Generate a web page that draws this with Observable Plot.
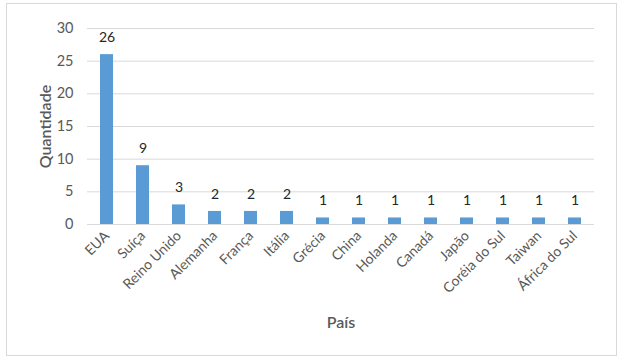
<!DOCTYPE html>
<html>
<head>
<meta charset="utf-8">
<script src="https://cdn.jsdelivr.net/npm/d3@7"></script>
<script src="https://cdn.jsdelivr.net/npm/@observablehq/plot@0.6"></script>
<style>
  body { margin: 0; background: #fff; }
  #wrap { position: relative; width: 625px; height: 361px; }
  #border { position: absolute; left: 6px; top: 3px; width: 609px; height: 351px; border: 1px solid #d9d9d9; box-sizing: content-box; pointer-events: none; }
  svg { position: absolute; left: 0; top: 0; }
</style>
</head>
<body>
<div id="wrap"><div id="border"></div></div>
<script>
const countries = ["EUA", "Suíça", "Reino Unido", "Alemanha", "França", "Itália", "Grécia", "China", "Holanda", "Canadá", "Japão", "Coréia do Sul", "Taiwan", "África do Sul"];
const counts = [26, 9, 3, 2, 2, 2, 1, 1, 1, 1, 1, 1, 1, 1];
const yTicks = [0, 5, 10, 15, 20, 25, 30];
const yTitle = "Quantidade";
const xTitle = "País";

const data = countries.map((c, i) => ({country: c, value: counts[i]}));

const chart = Plot.plot({
  width: 625,
  height: 361,
  marginLeft: 87,
  marginRight: 31,
  marginTop: 28,
  marginBottom: 137,
  style: {fontFamily: "Lato, 'Open Sans', sans-serif", fontSize: "13px", color: "#595959", background: "transparent"},
  x: {domain: countries, paddingInner: 0.64, paddingOuter: 0.32, label: null},
  y: {domain: [0, 30], label: null},
  marks: [
    Plot.ruleY(yTicks, {stroke: "#d9d9d9", strokeWidth: 1}),
    Plot.barY(data, {x: "country", y: "value", fill: "#5b9bd5"}),
    Plot.text(data, {x: "country", y: "value", text: d => String(d.value), dy: -17, fill: "#262626", fontSize: 14}),
    Plot.axisY({ticks: yTicks, tickSize: 0, tickPadding: 14, fontSize: 14.5, label: null}),
    Plot.axisX({tickSize: 0, tickRotate: -45, tickPadding: 9, fontSize: 14, label: null}),
    Plot.text([yTitle], {frameAnchor: "left", textAnchor: "middle", lineAnchor: "middle", dx: -42, rotate: -90, fontSize: 16, fontWeight: 600, fill: "#595959"}),
    Plot.text([xTitle], {frameAnchor: "bottom", textAnchor: "middle", lineAnchor: "middle", dy: 98, fontSize: 16, fontWeight: 600, fill: "#595959"})
  ]
});
document.getElementById("wrap").appendChild(chart);
</script>
</body>
</html>
